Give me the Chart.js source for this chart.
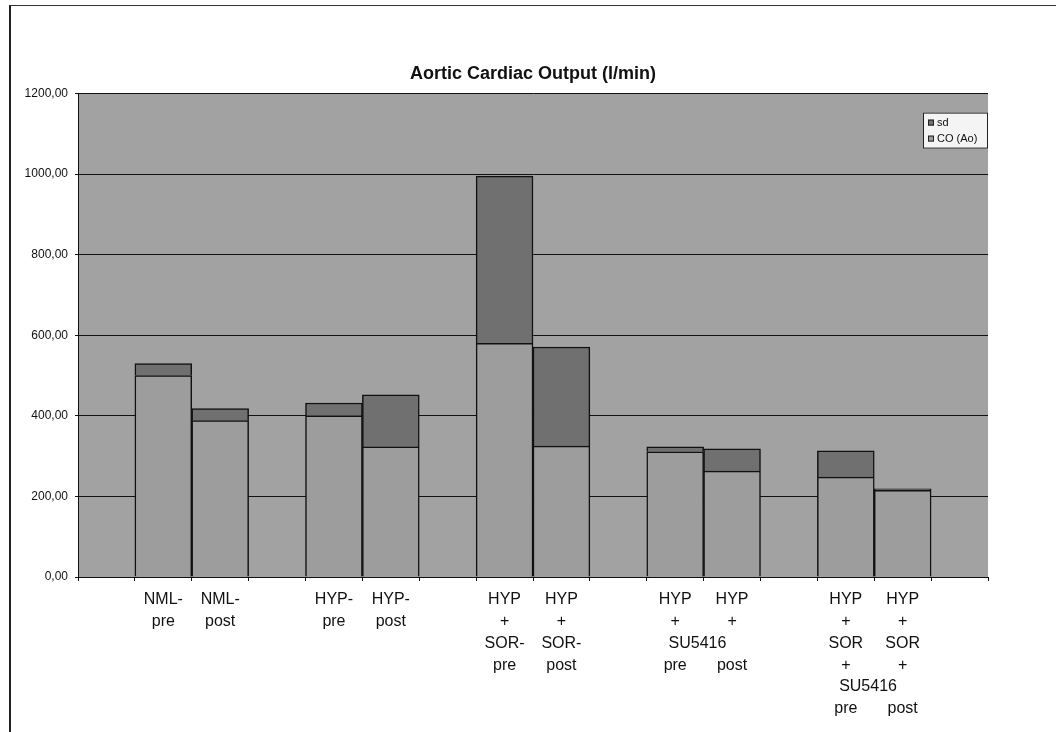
<!DOCTYPE html>
<html>
<head>
<meta charset="utf-8">
<script src="https://cdn.jsdelivr.net/npm/chart.js@4/dist/chart.umd.min.js"></script>
<style>
  body { margin: 0; background: #fff; }
  #frame { position: absolute; left: 9px; top: 5px; width: 1045px; height: 730px;
           border-left: 2px solid #222; border-top: 1px solid #333; }
  #wrap { position: absolute; left: 0; top: 0; }
</style>
</head>
<body>
<div id="frame"></div>
<div id="wrap"><canvas id="canvas" width="1061" height="732"></canvas></div>
<script>
// slots with empty labels are the gaps between the groups
const categories = [
  "",
  ["NML-", "pre"],
  ["NML-", "post"],
  "",
  ["HYP-", "pre"],
  ["HYP-", "post"],
  "",
  ["HYP", "+", "SOR-", "pre"],
  ["HYP", "+", "SOR-", "post"],
  "",
  ["HYP", "+", "          SU5416", "pre"],
  ["HYP", "+", "", "post"],
  "",
  ["HYP", "+", "SOR", "+", "          SU5416", "pre"],
  ["HYP", "+", "SOR", "+", "", "post"],
  ""
];
const coAo = [null, 500, 388, null, 400, 323, null, 580, 325, null, 311, 263, null, 248, 215, null];
const sd   = [null, 30, 30, null, 32, 129, null, 415, 246, null, 12, 55, null, 65, 4, null];
const yTicks = [0, 200, 400, 600, 800, 1000, 1200];

const plotBg = {
  id: "plotBg",
  beforeDraw(chart) {
    const { ctx, chartArea: a } = chart;
    ctx.save();
    ctx.fillStyle = "#a2a2a2";
    ctx.fillRect(a.left, a.top, a.right - a.left, a.bottom - a.top);
    ctx.restore();
  }
};

// small boxed legend sitting inside the top right corner of the plot
const boxLegend = {
  id: "boxLegend",
  afterDraw(chart) {
    const { ctx, chartArea: a } = chart;
    const sets = chart.data.datasets.slice().reverse();
    const w = 65, h = 36;
    const x = a.right - w, y = a.top + 19;
    ctx.save();
    ctx.fillStyle = "#f4f4f4";
    ctx.strokeStyle = "#222";
    ctx.lineWidth = 1;
    ctx.fillRect(x, y, w, h);
    ctx.strokeRect(x + 0.5, y + 0.5, w - 1, h - 1);
    ctx.font = "11px Arial, 'Liberation Sans'";
    ctx.textBaseline = "middle";
    sets.forEach((ds, i) => {
      const cy = y + 10 + i * 16;
      ctx.fillStyle = ds.backgroundColor;
      ctx.fillRect(x + 5, cy - 3, 6, 6);
      ctx.strokeRect(x + 5.5, cy - 2.5, 5, 5);
      ctx.fillStyle = "#111";
      ctx.fillText(ds.label, x + 14, cy);
    });
    ctx.restore();
  }
};

new Chart(document.getElementById("canvas").getContext("2d"), {
  type: "bar",
  data: {
    labels: categories,
    datasets: [
      {
        label: "CO (Ao)",
        data: coAo,
        backgroundColor: "#9d9d9d",
        borderColor: "#111",
        borderWidth: 1.5
      },
      {
        label: "sd",
        data: sd,
        backgroundColor: "#707070",
        borderColor: "#111",
        borderWidth: 1.5
      }
    ]
  },
  options: {
    responsive: false,
    animation: false,
    barPercentage: 1,
    categoryPercentage: 1,
    layout: { padding: { left: 0, right: 73, top: 63, bottom: 0 } },
    plugins: {
      legend: { display: false },
      tooltip: { enabled: false },
      title: {
        display: true,
        fullSize: false,
        text: "Aortic Cardiac Output (l/min)",
        color: "#111",
        font: { family: "Arial, 'Liberation Sans'", size: 18, weight: "bold" },
        padding: { top: 0, bottom: 9 }
      }
    },
    scales: {
      x: {
        stacked: true,
        afterFit: (s) => { s.height = 155; },
        grid: { offset: true, drawOnChartArea: false, color: "#111", tickLength: 4 },
        border: { color: "#111", width: 1 },
        ticks: {
          autoSkip: false,
          maxRotation: 0,
          minRotation: 0,
          padding: 8,
          color: "#111",
          font: { family: "Arial, 'Liberation Sans'", size: 16, lineHeight: 1.36 }
        }
      },
      y: {
        stacked: true,
        min: yTicks[0],
        max: yTicks[yTicks.length - 1],
        afterFit: (s) => { s.width = 78; },
        afterBuildTicks: (s) => { s.ticks = yTicks.map((v) => ({ value: v })); },
        grid: { color: "#111", lineWidth: 1, tickLength: 3 },
        border: { color: "#111", width: 1 },
        ticks: {
          padding: 7,
          color: "#111",
          font: { family: "Arial, 'Liberation Sans'", size: 12 },
          callback: (v) => Number(v).toFixed(2).replace(".", ",")
        }
      }
    }
  },
  plugins: [plotBg, boxLegend]
});
</script>
</body>
</html>
